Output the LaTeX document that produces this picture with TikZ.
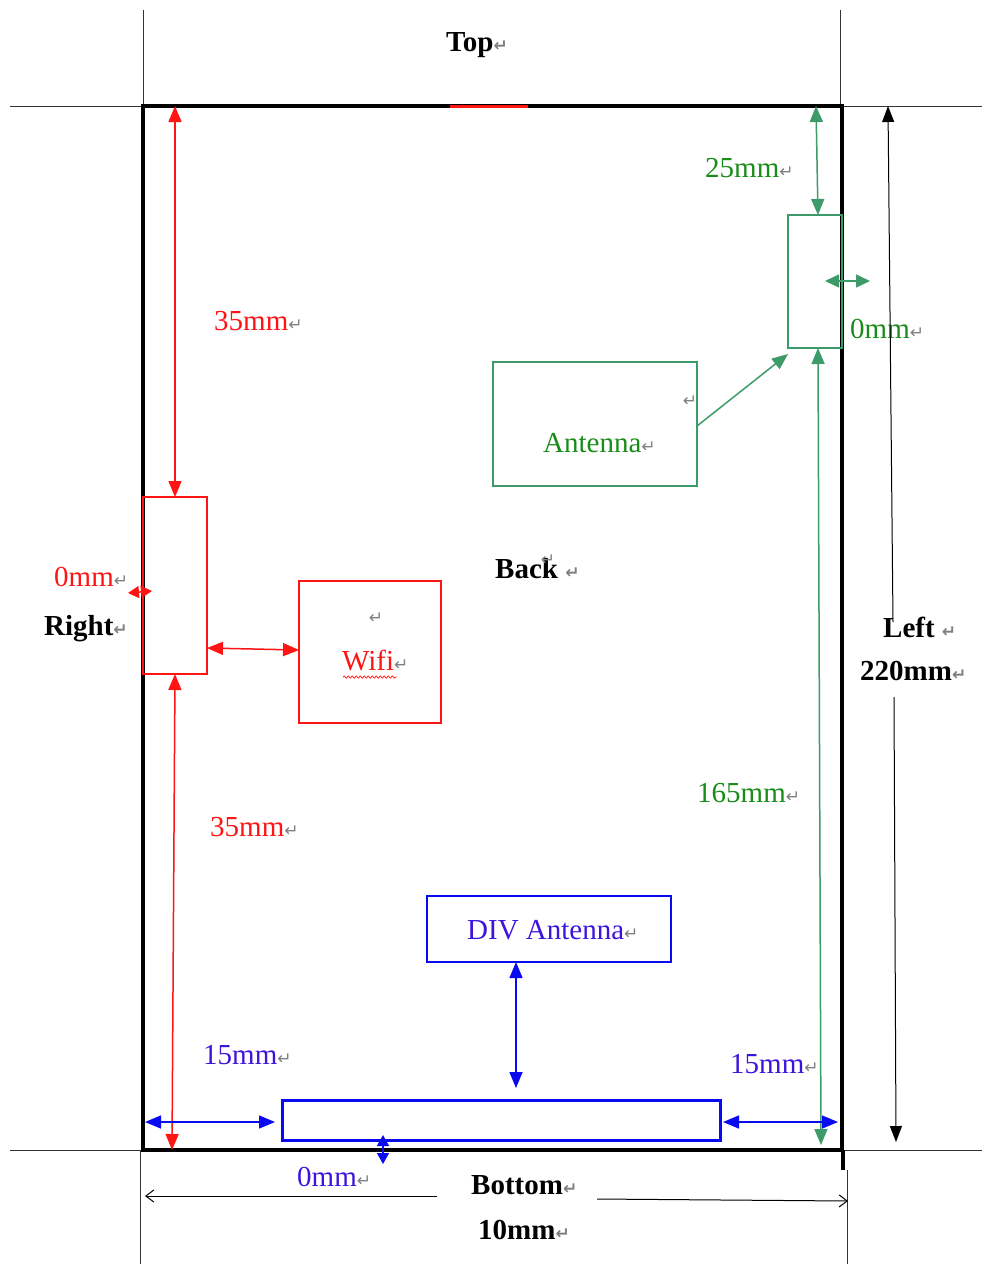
\documentclass[tikz,border=0pt]{standalone}
\usepackage{fontspec}
\setmainfont{Liberation Serif}
\newfontfamily\dejavu{DejaVu Sans}
\usetikzlibrary{arrows.meta,decorations.pathmorphing}
\definecolor{myred}{RGB}{255,20,20}
\definecolor{mygreen}{RGB}{60,155,105}
\definecolor{gtext}{RGB}{25,140,25}
\definecolor{myblue}{RGB}{10,10,240}
\definecolor{btext}{RGB}{60,20,220}
\newcommand\parmark{{\dejavu\fontsize{17}{17}\selectfont\textcolor{gray}{↵}}}
\tikzset{
  lbl/.style={font=\fontsize{29}{30}\selectfont, inner sep=0pt, anchor=west},
  blbl/.style={lbl, font=\fontsize{29}{30}\selectfont\bfseries},
  boxn/.style={draw, inner sep=0pt, outer sep=0pt, anchor=north west, line width=1.5pt},
  tip/.style={arrows={Triangle[length=16pt,width=13pt]-Triangle[length=16pt,width=13pt]}},
  stip/.style={arrows={Triangle[length=11pt,width=12pt]-Triangle[length=11pt,width=12pt]}},
  thinl/.style={line width=0.9pt, black!80},
}
\begin{document}
\begin{tikzpicture}[x=1pt,y=-1pt]
\useasboundingbox (0,0) rectangle (982,1264);
% thin guide lines
\draw[thinl] (10,106) -- (982,106);
\draw[thinl] (10,1150) -- (982,1150);
\draw[thinl] (143,10) -- (143,106);
\draw[thinl] (840,10) -- (840,106);
\draw[thinl] (140,1150) -- (140,1264);
\draw[thinl] (847,1170) -- (847,1264);
% board
\node[draw, line width=3.5pt, inner sep=0pt, outer sep=0pt, anchor=north west,
      minimum width=699pt, minimum height=1044pt] (board) at (143,106) {};
\draw[line width=3.5pt] (843,1150) -- (843,1170);
\draw[myred, line width=3pt] (450,106) -- (528,106);

% red part
\node[boxn, myred, minimum width=64pt, minimum height=177pt] (redrect) at (143,497) {};
\node[boxn, myred, minimum width=142pt, minimum height=142pt] (wifi) at (299,581) {};
\draw[myred, line width=1.5pt, tip] (175,0 |- board.north) -- (175,0 |- redrect.north);
\draw[myred, line width=1.5pt, tip] (redrect.east |- 0,648) -- (wifi.west |- 0,650);
\draw[myred, line width=1.5pt, tip] (175,0 |- redrect.south) -- (172,0 |- board.south);
\draw[myred, line width=1.5pt, stip] (128,593) -- (152,591);
\node[lbl, myred] (r35a) at (214,321) {35mm\parmark};
\node[lbl, myred] (r35b) at (210,827) {35mm\parmark};
\node[lbl, myred] (r0) at (54,577) {0mm\parmark};
\node[lbl, myred] (wifit) at (342,661) {Wifi\parmark};
\node[inner sep=0pt] (wifim) at (376,618) {\parmark};
\draw[myred, line width=0.7pt, decorate, decoration={snake, amplitude=1.2pt, segment length=4pt}] (343,677) -- (397,677);

% green part
\node[boxn, mygreen, minimum width=54pt, minimum height=133pt] (greenrect) at (788,215) {};
\node[boxn, mygreen, minimum width=204pt, minimum height=124pt] (antenna) at (493,362) {};
\draw[mygreen, line width=1.5pt, tip] (816,0 |- board.north) -- (818,0 |- greenrect.north);
\draw[mygreen, line width=1.5pt, arrows={Triangle[length=14pt,width=13pt]-Triangle[length=14pt,width=13pt]}] (825,281) -- (870,281);
\draw[mygreen, line width=1.5pt, -{Triangle[length=16pt,width=13pt]}] (antenna.east |- 0,426) -- (788,354);
\draw[mygreen, line width=1.5pt, tip] (818,0 |- greenrect.south) -- (821,1145);
\node[lbl, gtext] (g25) at (705,168) {25mm\parmark};
\node[lbl, gtext] (g0) at (850,329) {0mm\parmark};
\node[lbl, gtext] (antt) at (543,443) {Antenna\parmark};
\node[inner sep=0pt] (antm) at (690,401) {\parmark};
\node[lbl, gtext] (g165) at (697,793) {165mm\parmark};

% blue part
\node[boxn, myblue, minimum width=244pt, minimum height=66pt] (div) at (427,896) {};
\node[boxn, myblue, line width=3pt, minimum width=438pt, minimum height=40pt] (bar) at (282,1100) {};
\draw[myblue, line width=1.5pt, tip] (div.south -| 516,0) -- (516,1088);
\draw[myblue, line width=1.5pt, tip] (145,1122) -- (275,1122);
\draw[myblue, line width=1.5pt, tip] (723,1122) -- (838,1122);
\draw[myblue, line width=1.5pt, stip] (383,1135) -- (383,1164);
\node[lbl, btext] (divt) at (467,930) {DIV Antenna\parmark};
\node[lbl, btext] (b15a) at (203,1055) {15mm\parmark};
\node[lbl, btext] (b15b) at (730,1064) {15mm\parmark};
\node[lbl, btext] (b0) at (297,1177) {0mm\parmark};

% black labels
\node[blbl] (top) at (446,45) {Top\parmark};
\node[blbl] (right) at (44,629) {Right\parmark};
\node[blbl] (back) at (495,569) {Back \parmark};
\node[inner sep=0pt] (backm) at (548,560) {\parmark};
\node[blbl] (left) at (883,627) {Left \parmark};
\node[blbl] (l220) at (860,671) {220mm\parmark};
\node[blbl] (bottom) at (471,1185) {Bottom\parmark};
\node[blbl] (b10) at (478,1230) {10mm\parmark};

% black dimension arrows
\draw[line width=1pt, {Triangle[length=16pt,width=12pt]}-] (888,0 |- board.north) -- (893,622);
\draw[line width=1pt, -{Triangle[length=16pt,width=12pt]}] (894,697) -- (896,1142);
\draw[line width=1pt, -{Straight Barb[length=8pt,width=12pt]}] (437,1196) -- (145,1196);
\draw[line width=1pt, -{Straight Barb[length=8pt,width=12pt]}] (597,1199) -- (848,1201);
\end{tikzpicture}
\end{document}
